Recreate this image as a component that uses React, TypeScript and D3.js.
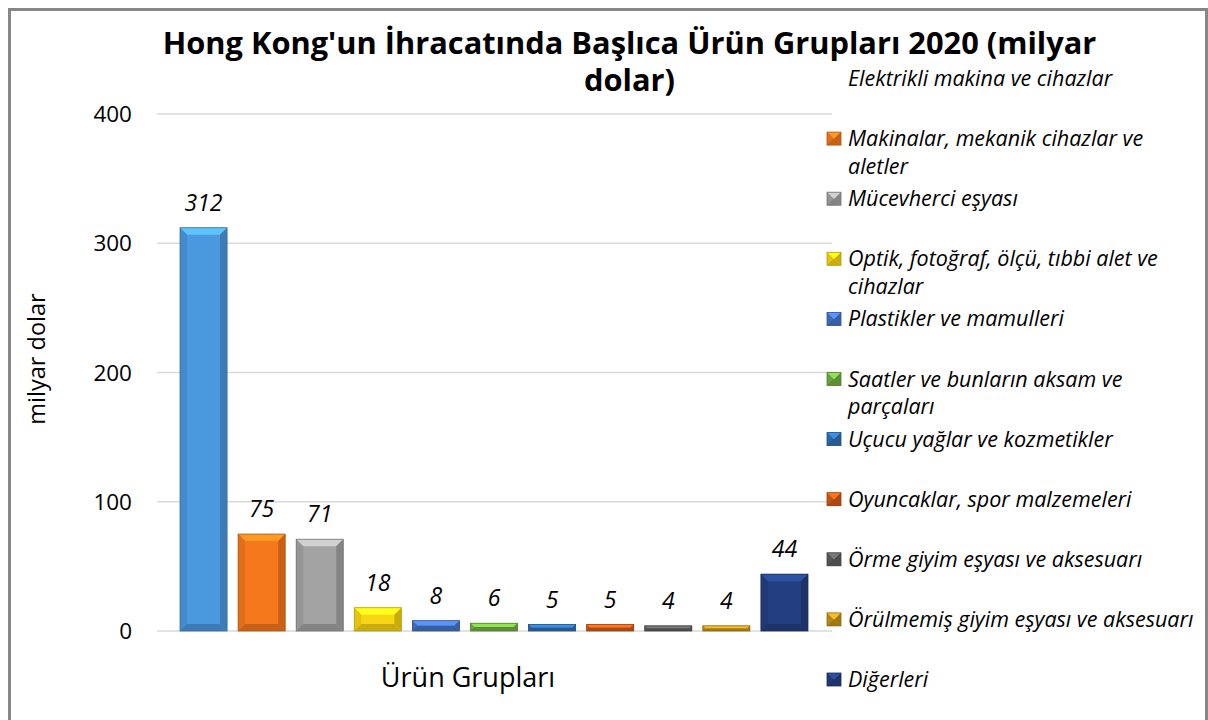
import * as d3 from "d3";
import React, { useMemo } from "react";

const categories = [
  "Elektrikli makina ve cihazlar",
  "Makinalar, mekanik cihazlar ve aletler",
  "Mücevherci eşyası",
  "Optik, fotoğraf, ölçü, tıbbi alet ve cihazlar",
  "Plastikler ve mamulleri",
  "Saatler ve bunların aksam ve parçaları",
  "Uçucu yağlar ve kozmetikler",
  "Oyuncaklar, spor malzemeleri",
  "Örme giyim eşyası ve aksesuarı",
  "Örülmemiş giyim eşyası ve aksesuarı",
  "Diğerleri",
];
// legend labels as they wrap in the original
const legendLines = [
  ["Elektrikli makina ve cihazlar"],
  ["Makinalar, mekanik cihazlar ve", "aletler"],
  ["Mücevherci eşyası"],
  ["Optik, fotoğraf, ölçü, tıbbi alet ve", "cihazlar"],
  ["Plastikler ve mamulleri"],
  ["Saatler ve bunların aksam ve", "parçaları"],
  ["Uçucu yağlar ve kozmetikler"],
  ["Oyuncaklar, spor malzemeleri"],
  ["Örme giyim eşyası ve aksesuarı"],
  ["Örülmemiş giyim eşyası ve aksesuarı"],
  ["Diğerleri"],
];
const values = [312, 75, 71, 18, 8, 6, 5, 5, 4, 4, 44];
const colors = [
  "#4a98de", "#f5781c", "#a3a3a3", "#f9d614", "#4674c6", "#72b044",
  "#2f70b2", "#cf5c18", "#5e5e5e", "#c4931a", "#243f80",
];
const yTicks = [0, 100, 200, 300, 400];
const showMarker = [false, true, true, true, true, true, true, true, true, true, true];
const titleLines = ["Hong Kong'un İhracatında Başlıca Ürün Grupları 2020 (milyar", "dolar)"];

const W = 1208;
const H = 720;
const FONT = "'Open Sans', 'Noto Sans', sans-serif";

function Bar({ x, y, w, h, color }: { x: number; y: number; w: number; h: number; color: string }) {
  const b = Math.min(7, w / 2, h / 2);
  const c = d3.color(color)!;
  const top = c.brighter(0.7).formatHex();
  const side = c.darker(0.25).formatHex();
  const dark = c.darker(0.6).formatHex();
  const edge = c.darker(0.9).formatHex();
  const pts = (a: number[][]) => a.map((p) => p.join(",")).join(" ");
  return (
    <g>
      <rect x={x} y={y} width={w} height={h} fill={color} />
      <polygon points={pts([[x, y], [x + w, y], [x + w - b, y + b], [x + b, y + b]])} fill={top} />
      <polygon points={pts([[x, y], [x + b, y + b], [x + b, y + h - b], [x, y + h]])} fill={side} />
      <polygon points={pts([[x + w, y], [x + w - b, y + b], [x + w - b, y + h - b], [x + w, y + h]])} fill={dark} />
      <polygon points={pts([[x, y + h], [x + b, y + h - b], [x + w - b, y + h - b], [x + w, y + h]])} fill={dark} />
      <rect x={x} y={y} width={w} height={h} fill="none" stroke={edge} strokeWidth={0.8} />
    </g>
  );
}

export default function App() {
  const x = useMemo(
    () =>
      d3
        .scaleBand<number>()
        .domain(d3.range(values.length))
        .range([174.5, 813.5])
        .paddingInner(0.19)
        .paddingOuter(0.095),
    []
  );
  const y = useMemo(() => d3.scaleLinear().domain([0, 400]).range([631, 114]), []);

  return (
    <svg
      width={W}
      height={H}
      style={{ position: "absolute", left: 0, top: 0, background: "#fff" }}
      fontFamily={FONT}
    >
      <rect x={9.5} y={9.5} width={1197} height={740} fill="#fff" stroke="#878787" strokeWidth={3} />

      {/* gridlines */}
      {yTicks.map((t) => (
        <line key={t} x1={157} x2={832} y1={y(t)} y2={y(t)} stroke="#d9d9d9" strokeWidth={1.5} />
      ))}
      {yTicks.map((t) => (
        <text key={"l" + t} x={132} y={y(t)} dy="0.36em" textAnchor="end" fontSize={22.5} fill="#000">
          {t}
        </text>
      ))}

      {/* bars */}
      {values.map((v, i) => (
        <Bar key={i} x={x(i)!} y={y(v)} w={x.bandwidth()} h={y(0) - y(v)} color={colors[i]} />
      ))}
      {values.map((v, i) => (
        <text
          key={"v" + i}
          x={x(i)! + x.bandwidth() / 2}
          y={y(v) - 17}
          textAnchor="middle"
          fontSize={23}
          fontStyle="italic"
          fill="#000"
        >
          {v}
        </text>
      ))}

      {/* title */}
      <text textAnchor="middle" fontSize={30.8} fontWeight="bold" fill="#000">
        {titleLines.map((l, j) => (
          <tspan key={j} x={629.5} y={54 + j * 37}>
            {l}
          </tspan>
        ))}
      </text>

      {/* axis titles */}
      <text x={468} y={687} textAnchor="middle" fontSize={27} fill="#000">
        Ürün Grupları
      </text>
      <text
        transform={`translate(45,359) rotate(-90)`}
        textAnchor="middle"
        fontSize={23.5}
        fill="#000"
      >
        milyar dolar
      </text>

      {/* legend */}
      {categories.map((cat, i) => {
        const base = 86 + i * 60.1;
        return (
          <g key={"lg" + i} aria-label={cat}>
            {showMarker[i] && <Bar x={827} y={base - 14} w={14} h={13} color={colors[i]} />}
            <text x={848} y={base} fontSize={21.5} fontStyle="italic" fill="#000">
              {legendLines[i].map((l, j) => (
                <tspan key={j} x={848} y={base + j * 27.5}>
                  {l}
                </tspan>
              ))}
            </text>
          </g>
        );
      })}
    </svg>
  );
}
